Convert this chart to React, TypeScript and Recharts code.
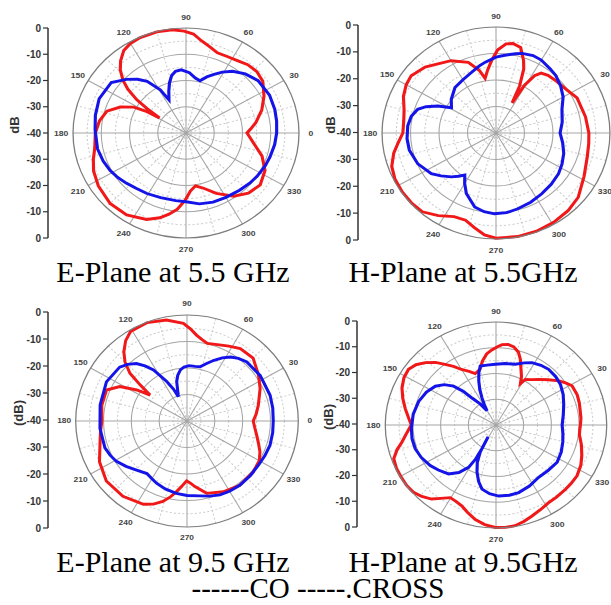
import React from 'react';
import {
  RadarChart,
  Radar,
  PolarGrid,
  PolarAngleAxis,
  PolarRadiusAxis,
  LineChart,
  XAxis,
  YAxis,
} from 'recharts';

type Pt = [number, number];

// [angle in degrees, level in dB], in path order
const e55Co: Pt[] = [
  [0, -18.4], [4, -17], [9, -15], [18, -11.8], [27, -9], [36, -6.4], [43, -5.7], [50, -6], [57, -7],
  [63, -7.4], [70, -7.5], [76, -6], [81, -4.5], [86, -2.2], [91, -1.2], [97, -0.4], [105, -0.1],
  [114, -0.2], [120, -0.6], [125, -1.6], [130, -4], [134, -6.5], [138, -10], [141, -13.5], [144, -18.5],
  [146, -23.5], [148.5, -29], [149.5, -24], [152, -19], [157, -14.7], [163.5, -10.8], [171.5, -9],
  [180, -7.9], [190, -7.2], [197, -5.7], [204, -4.2], [213, -3], [225, -2], [236, -2.4], [247, -4.2],
  [254, -6.4], [259, -8.5], [264, -10.8], [269.5, -14.5], [274, -17.8], [279.5, -19.6], [286, -18.2],
  [295, -14.6], [305, -10.6], [314, -8.2], [323, -7.1], [333, -8.6], [342, -11.7], [351, -15.8],
];
const e55Cross: Pt[] = [
  [0, -7.9], [8, -7.6], [16, -7.3], [26, -7.1], [38, -7.6], [47, -9.2], [55, -11.3], [61, -13.5],
  [66, -15.6], [71, -17.4], [76, -19.5], [81, -18.8], [87, -17], [94, -15.9], [99, -16.2], [103, -17.5],
  [107, -20], [111, -23], [115.5, -26], [119, -21.2], [125, -16], [130, -13.3], [136, -10.6], [144, -7.3],
  [157, -6.6], [168, -7.2], [178, -7.8], [191, -8.1], [200, -8.8], [208, -9.6], [215, -10.5], [222, -11.5],
  [230, -12.5], [239, -13.1], [250, -13.8], [262, -14], [270, -13.8], [280, -12.6], [290, -12], [300, -11.7],
  [311, -11.1], [320, -10.4], [327, -9.9], [336, -9.3], [343, -8.9], [352, -8.3],
];
const h55Co: Pt[] = [
  [0, -7.4], [11, -8], [25, -8.6], [34, -10.4], [43, -11.2], [50, -11.6], [55, -12.4], [58, -14.5],
  [61, -19.5], [63.5, -27.3], [65, -20.4], [68, -14], [70.5, -11], [75, -6.6], [80, -5.7], [84, -6.2],
  [89, -8.7], [93, -12.4], [97, -16], [100.5, -19], [104, -15.6], [110, -11.6], [120, -8.5], [128, -6.9],
  [135, -4.8], [144, -3.2], [150, -3.6], [157, -4.7], [165, -6.6], [172, -7.3], [180, -7.3], [186, -5.5],
  [192, -3.3], [199, -1.3], [206, -0.5], [214, -0.3], [222, -0.3], [229, -0.6], [237, -2.8], [245, -5.2],
  [252, -5.4], [258, -3.5], [264, -1.3], [270, -0.3], [281, -0.2], [291, -0.3], [301, -0.7], [311, -1.3],
  [320, -2.3], [332, -5], [344, -6.7], [353, -7.2],
];
const h55Cross: Pt[] = [
  [0, -17.5], [10, -16.4], [21, -15.2], [30, -12.8], [38, -11.2], [46, -9.8], [52, -9.2], [60, -8.2],
  [66, -8], [73, -8.6], [77, -9.3], [84, -10.5], [90, -11.4], [98, -13], [103, -14], [112, -15.8],
  [120, -16.8], [130, -17.6], [141, -19.8], [148.7, -21.7], [153.5, -17.2], [158, -13.5], [162, -11.1],
  [168, -9.6], [175, -8.9], [184, -8.7], [192, -8.9], [203, -10.2], [214, -12.6], [220, -14.8],
  [226.5, -17.2], [231, -19], [235.4, -20.7], [240, -18], [245.5, -14.9], [255, -11.1], [262, -10],
  [269, -9.5], [277, -9.7], [285, -10.4], [295, -11.2], [305, -12], [315, -12.6], [325, -13.2],
  [333, -14], [342, -15], [351, -16.3],
];
const e95Co: Pt[] = [
  [0, -16.2], [6, -15], [13, -13.7], [25, -11], [34, -9], [45, -6.4], [55, -6.6], [62, -8], [68, -9],
  [76, -9.8], [80, -8.8], [84, -7.4], [88, -5.2], [92, -3.1], [101, -1.2], [111, -0.2], [121, -0.6],
  [126, -2.5], [131, -5.4], [135, -8.5], [138.7, -12.7], [141, -18.3], [143.6, -23.5], [147, -18.5],
  [151.7, -12.6], [158, -8.8], [169, -8.8], [180, -9.4], [187, -8.7], [194, -7.8], [206, -5], [218, -3.2],
  [231, -3.4], [243.5, -4.9], [249, -6.4], [254, -8.4], [258, -10.6], [262, -13.1], [266, -15.5],
  [269.7, -17.4], [273, -16.5], [276.6, -15.1], [284.5, -11.8], [296, -10.3], [308, -9.2], [321, -9.4],
  [330, -10], [336, -11.3], [342, -13], [348, -14.4], [354, -15.5],
];
const e95Cross: Pt[] = [
  [0, -9], [9, -8.8], [18, -8.6], [33, -8.6], [46, -9], [52, -10], [57, -11.2], [62, -13], [67, -15.1],
  [72, -17.2], [77, -19], [82, -19.2], [88, -19.1], [93, -19.6], [97, -20.6], [101, -22.5], [104, -24.7],
  [108.7, -30.3], [112, -27], [116, -23.4], [122, -17.3], [126, -14.3], [130, -11.7], [135, -9.8],
  [140, -8.4], [153, -7.5], [169, -8.2], [185, -8.6], [199, -8.8], [205, -9.5], [211, -10.4], [218, -12.2],
  [225.6, -14.1], [234, -15.5], [240, -14.8], [245, -14.1], [253, -13.2], [262, -12.4], [270, -11.9],
  [279, -11.4], [286, -10.5], [293, -9.7], [300, -9.4], [308, -9.2], [318, -9.3], [327, -9.4], [335, -9.1],
  [343, -8.8], [352, -8.9],
];
const h95Co: Pt[] = [
  [0, -9.5], [5, -9.2], [10, -9.1], [16, -8.7], [22, -8.4], [29, -8.6], [33, -10], [37, -11.5], [43, -14.2],
  [49, -16.5], [54, -18.2], [59, -19.4], [61.2, -21.7], [64, -19], [68, -16], [71, -13], [74, -10.6],
  [78, -9], [82, -8.4], [86, -8.7], [89, -9.6], [93, -10.8], [97, -12.2], [101, -14.6], [105, -17.6],
  [110.6, -18.7], [115, -17], [120, -15.1], [124, -12.5], [128, -10.1], [132, -7.3], [136.5, -4.8],
  [141, -2.8], [145.6, -1.7], [151, -2], [157, -3.1], [163, -4.8], [169, -6.6], [175, -8.3], [180, -9.4],
  [185, -7.8], [191, -5.4], [195, -3], [199.5, -0.8], [205, -0.3], [210, -0.2], [216, -0.1], [221, -0.3],
  [226, -1.4], [231, -3], [235, -5.2], [239.6, -7.3], [244, -7], [248.7, -6.2], [253, -4.6], [258.5, -2.5],
  [264, -1.1], [269.6, -0.2], [275, -0.1], [280, -0.3], [285, -1.2], [290, -2.3], [296, -3.4], [302, -4.3],
  [308, -4.5], [315, -4.6], [320, -4.6], [326, -4.7], [333, -5.6], [339, -6.8], [346, -8.2], [352.6, -9.6],
  [356, -9.7],
];
const h95Cross: Pt[] = [
  [0, -16.1], [9, -15.4], [17.8, -14.3], [26, -13], [34, -11.9], [41, -11.4], [48.7, -11.2], [55, -11.7],
  [61.8, -12.5], [67, -13.8], [73.5, -15.4], [82, -15.9], [90.6, -16.4], [98, -16.5], [103.9, -16.4],
  [107, -18.8], [110, -21.8], [113, -25], [115.8, -28.4], [118, -31], [120.4, -33.6], [125, -30],
  [129.6, -26.4], [132, -22.5], [135.5, -18.5], [140, -15.6], [145.5, -13.4], [153, -11.8], [161.8, -10.6],
  [172, -9.8], [182.5, -9.4], [190, -9.2], [197.5, -9.4], [205, -10.2], [213.5, -11.5], [220, -12.8],
  [227.9, -14.4], [234, -17.2], [238.9, -20.8], [241, -25], [241, -29.5], [238, -34.6], [241.5, -28.1],
  [245, -24], [249.5, -20.4], [254, -17.2], [258.5, -14.6], [265, -13.2], [272, -12.4], [280, -12.3],
  [287.4, -12.5], [297, -13.4], [307.2, -14.5], [317, -14.2], [326.8, -13.6], [336, -14.2], [344.8, -15],
  [352, -15.6],
];

const angleTicks = [0, 30, 60, 90, 120, 150, 180, 210, 240, 270, 300, 330];
const angleMinor = [15, 45, 75, 105, 135, 165, 195, 225, 255, 285, 315, 345];
const ringMajor = [-30, -20, -10];
const ringMinor = [-35, -25, -15, -5];
// side scale: 80 = 0 dB at top, 40 = -40 dB at the centre, 0 = 0 dB at the bottom
const sideMajor = [0, 10, 20, 30, 40, 50, 60, 70, 80];
const sideMinor = [5, 15, 25, 35, 45, 55, 65, 75];

const titles = ['E-Plane at 5.5 GHz', 'H-Plane at 5.5GHz', 'E-Plane at 9.5 GHz', 'H-Plane at 9.5GHz'];
const legendText = '------CO -----.CROSS';

const RED = '#f01818';
const BLUE = '#1414e8';
const SANS = '"Liberation Sans", Arial, sans-serif';
const SERIF = '"Liberation Serif", "Times New Roman", serif';

const sideLabel = (v: number) => String(Math.abs(v - 40) - 40);

// the right-hand plots run past the page edge, so their 0° label is not on the page
const panels = [
  { co: e55Co, cross: e55Cross, unit: 'dB', unitX: 14, axisX: 48, axisTop: 28, axisBottom: 238, cx: 186, cy: 133, r: 105, sx: 1.076, offPage: [] as number[] },
  { co: h55Co, cross: h55Cross, unit: 'dB', unitX: 330, axisX: 358, axisTop: 25, axisBottom: 240, cx: 496, cy: 133, r: 106, sx: 1.075, offPage: [0] },
  { co: e95Co, cross: e95Cross, unit: '(dB)', unitX: 18, axisX: 48, axisTop: 312, axisBottom: 528, cx: 187, cy: 421, r: 106, sx: 1.05, offPage: [] as number[] },
  { co: h95Co, cross: h95Cross, unit: '(dB)', unitX: 328, axisX: 357, axisTop: 321, axisBottom: 527, cx: 496, cy: 425, r: 103, sx: 1.075, offPage: [0] },
];

// baselines of the captions
const titleSpots = [
  { x: 173, y: 282 },
  { x: 463, y: 282 },
  { x: 173, y: 572 },
  { x: 463, y: 572 },
];

type Panel = (typeof panels)[number];

const makeAngleTick = (skip: number[]) => (props: any) =>
  skip.includes(props.payload.value) ? (
    <g />
  ) : (
    <text
      x={props.x}
      y={props.y}
      textAnchor="middle"
      dominantBaseline="central"
      fontSize={8}
      fontWeight={700}
      fontFamily={SANS}
      fill="#444"
    >
      {props.payload.value}
    </text>
  );

function PolarPlot({ p }: { p: Panel }) {
  const pad = 26;
  const size = 2 * (p.r + pad);
  const c = size / 2;
  const ring = (db: number) => (p.r * (db + 40)) / 40;
  const box: React.CSSProperties = {
    position: 'absolute',
    left: p.cx - c,
    top: p.cy - c,
    width: size,
    height: size,
    transform: `scaleX(${p.sx})`,
    transformOrigin: `${c}px ${c}px`,
  };
  const coRows = p.co.map(([a, v]) => ({ a, v }));
  const crossRows = p.cross.map(([a, v]) => ({ a, v }));
  const common = {
    width: size,
    height: size,
    cx: c,
    cy: c,
    outerRadius: p.r,
    startAngle: 0,
    endAngle: 360,
    margin: { top: 0, right: 0, bottom: 0, left: 0 },
  };

  return (
    <>
      <div style={box}>
        <RadarChart {...common} data={coRows}>
          <PolarGrid
            gridType="circle"
            polarAngles={angleMinor}
            polarRadius={ringMinor.map(ring)}
            stroke="#cdcdcd"
            strokeDasharray="2 2"
          />
          <PolarGrid gridType="circle" polarAngles={angleTicks} polarRadius={ringMajor.map(ring)} stroke="#a5a5a5" />
          <PolarAngleAxis
            dataKey="a"
            type="number"
            domain={[0, 360]}
            ticks={angleTicks as any}
            tickSize={11}
            tickLine={false}
            axisLineType="circle"
            axisLine={{ stroke: '#7d7d7d', strokeWidth: 1.2 }}
            tick={makeAngleTick(p.offPage)}
          />
          <PolarRadiusAxis type="number" domain={[-40, 0]} tick={false} axisLine={false} />
          <Radar dataKey="v" stroke={RED} strokeWidth={2.9} fill="none" dot={false} isAnimationActive={false} />
        </RadarChart>
      </div>
      <div style={box}>
        <RadarChart {...common} data={crossRows}>
          <PolarAngleAxis dataKey="a" type="number" domain={[0, 360]} tick={false} tickLine={false} axisLine={false} />
          <PolarRadiusAxis type="number" domain={[-40, 0]} tick={false} axisLine={false} />
          <Radar dataKey="v" stroke={BLUE} strokeWidth={2.9} fill="none" dot={false} isAnimationActive={false} />
        </RadarChart>
      </div>
    </>
  );
}

function SideAxis({ p }: { p: Panel }) {
  const h = p.axisBottom - p.axisTop;
  const rows = sideMajor.map((t) => ({ t }));
  const wrap: React.CSSProperties = { position: 'absolute', left: p.axisX - 60, top: p.axisTop - 10 };
  const margin = { top: 10, right: 4, bottom: 10, left: 0 };
  return (
    <>
      <div style={wrap}>
        <LineChart width={64} height={h + 20} data={rows} margin={margin}>
          <XAxis dataKey="t" hide />
          <YAxis
            type="number"
            domain={[0, 80]}
            allowDataOverflow
            ticks={sideMinor}
            interval={0}
            tick={false}
            tickSize={3}
            axisLine={false}
            tickLine={{ stroke: '#444' }}
            width={60}
          />
        </LineChart>
      </div>
      <div style={wrap}>
        <LineChart width={64} height={h + 20} data={rows} margin={margin}>
          <XAxis dataKey="t" hide />
          <YAxis
            type="number"
            domain={[0, 80]}
            allowDataOverflow
            ticks={sideMajor}
            interval={0}
            tickFormatter={sideLabel}
            tickSize={5}
            tickMargin={2}
            width={60}
            axisLine={{ stroke: '#333', strokeWidth: 1.5 }}
            tickLine={{ stroke: '#333', strokeWidth: 1.2 }}
            tick={{ fontSize: 10, fontWeight: 700, fill: '#333', fontFamily: SANS }}
          />
        </LineChart>
      </div>
      <div
        style={{
          position: 'absolute',
          left: p.unitX,
          top: p.cy - 8,
          transform: 'translate(-50%, -50%) rotate(-90deg)',
          font: `700 13px ${SANS}`,
          color: '#333',
          whiteSpace: 'nowrap',
        }}
      >
        {p.unit}
      </div>
    </>
  );
}

// a tight 16px line box; baseline sits 8px + (ascent - descent) / 2 below its top
const LINE = 16;
const captionStyle = (x: number, baseline: number, size: number): React.CSSProperties => ({
  position: 'absolute',
  left: x,
  top: Math.round(baseline - LINE / 2 - 0.3375 * size),
  transform: 'translateX(-50%)',
  fontFamily: SERIF,
  fontSize: size,
  lineHeight: `${LINE}px`,
  color: '#000',
  whiteSpace: 'nowrap',
});

export default function App() {
  return (
    <div
      style={{
        position: 'absolute',
        left: 0,
        top: 0,
        width: 611,
        height: 605,
        overflow: 'hidden',
        background: '#fff',
      }}
    >
      {panels.map((p, i) => (
        <React.Fragment key={i}>
          <SideAxis p={p} />
          <PolarPlot p={p} />
        </React.Fragment>
      ))}
      {titles.map((t, i) => (
        <div key={t} style={captionStyle(titleSpots[i].x, titleSpots[i].y, 30)}>
          {t}
        </div>
      ))}
      <div style={captionStyle(318, 598, 29)}>{legendText}</div>
    </div>
  );
}
